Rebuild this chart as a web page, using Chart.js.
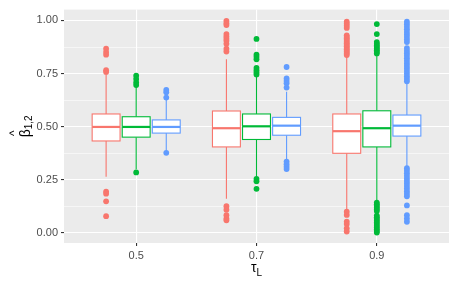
<!DOCTYPE html>
<html>
<head>
<meta charset="utf-8">
<script src="https://cdn.jsdelivr.net/npm/chart.js@4"></script>
<style>
  body { margin: 0; background: #fff; }
  #wrap { width: 456px; height: 285px; }
</style>
</head>
<body>
<div id="wrap"><canvas id="myChart"></canvas></div>
<script>
(function() {
  'use strict';

  // tau_L groups on the x axis
  const categories = ['0.5', '0.7', '0.9'];
  const yTicks = [0, 0.25, 0.5, 0.75, 1];
  const yMinorTicks = [0.125, 0.375, 0.625, 0.875];

  // box stats per group: [lower whisker, q1, median, q3, upper whisker]
  const redStats = [
    [0.265, 0.433, 0.499, 0.560, 0.750],
    [0.161, 0.405, 0.493, 0.574, 0.817],
    [0.110, 0.375, 0.479, 0.560, 0.828]
  ];
  const greenStats = [
    [0.300, 0.451, 0.499, 0.547, 0.690],
    [0.262, 0.440, 0.502, 0.560, 0.735],
    [0.150, 0.405, 0.493, 0.575, 0.836]
  ];
  const blueStats = [
    [0.385, 0.470, 0.499, 0.532, 0.634],
    [0.340, 0.460, 0.505, 0.544, 0.665],
    [0.310, 0.456, 0.505, 0.555, 0.705]
  ];

  // outliers per group
  const redOutliers = [
    [0.867, 0.851, 0.839, 0.766, 0.758, 0.195, 0.185, 0.149, 0.079],
    [0.998, 0.987, 0.978, 0.936, 0.925, 0.914, 0.904, 0.890, 0.867, 0.854,
     0.126, 0.110, 0.084, 0.068, 0.060],
    [0.994, 0.985, 0.975, 0.965, 0.930, 0.922, 0.915, 0.908, 0.900, 0.893,
     0.886, 0.879, 0.872, 0.865, 0.858, 0.851, 0.844, 0.837,
     0.100, 0.085, 0.054, 0.042, 0.022, 0.007]
  ];
  const greenOutliers = [
    [0.740, 0.724, 0.708, 0.696, 0.285],
    [0.913, 0.839, 0.828, 0.817, 0.777, 0.766, 0.755, 0.746, 0.254, 0.243, 0.208],
    [0.983, 0.936, 0.898, 0.890, 0.882, 0.875, 0.867, 0.860, 0.852, 0.845,
     0.143, 0.135, 0.127, 0.119, 0.111, 0.103, 0.082, 0.074, 0.066, 0.058,
     0.050, 0.042, 0.034, 0.026, 0.018, 0.010, 0.002]
  ];
  const blueOutliers = [
    [0.673, 0.662, 0.637, 0.377],
    [0.781, 0.727, 0.715, 0.704, 0.684, 0.336, 0.324, 0.312, 0.301],
    [0.994, 0.982, 0.970, 0.958, 0.946, 0.934, 0.922, 0.910, 0.898, 0.870,
     0.858, 0.846, 0.834, 0.822, 0.810, 0.798, 0.786, 0.774, 0.762, 0.750,
     0.738, 0.726, 0.714,
     0.305, 0.293, 0.281, 0.269, 0.257, 0.245, 0.233, 0.221, 0.209, 0.197,
     0.185, 0.173, 0.130, 0.084, 0.068, 0.053]
  ];

  const series = [
    { stats: redStats, outliers: redOutliers, color: '#F8766D', offset: -0.25 },
    { stats: greenStats, outliers: greenOutliers, color: '#00BA38', offset: 0 },
    { stats: blueStats, outliers: blueOutliers, color: '#619CFF', offset: 0.25 }
  ];
  const BOX_HALF = 0.116;

  const datasets = series.map(function (s) {
    const pts = [];
    s.outliers.forEach(function (list, i) {
      list.forEach(function (v) { pts.push({ x: i + 1 + s.offset, y: v }); });
    });
    return {
      type: 'scatter',
      data: pts,
      pointRadius: 2.9,
      pointBackgroundColor: s.color,
      pointBorderWidth: 0,
      pointHoverRadius: 2.9
    };
  });

  // grey panel behind the grid
  const panelBg = {
    id: 'panelBg',
    beforeDraw(chart) {
      const a = chart.chartArea, ctx = chart.ctx;
      ctx.save();
      ctx.fillStyle = '#EBEBEB';
      ctx.fillRect(a.left, a.top, a.right - a.left, a.bottom - a.top);
      ctx.restore();
    }
  };

  // boxes and whiskers, placed with the chart's scales
  const boxes = {
    id: 'boxes',
    afterDatasetsDraw(chart) {
      const ctx = chart.ctx, xs = chart.scales.x, ys = chart.scales.y;
      ctx.save();
      series.forEach(function (s) {
        s.stats.forEach(function (st, i) {
          const c = i + 1 + s.offset;
          const xc = xs.getPixelForValue(c);
          const x0 = xs.getPixelForValue(c - BOX_HALF);
          const x1 = xs.getPixelForValue(c + BOX_HALF);
          const yLo = ys.getPixelForValue(st[0]);
          const yQ1 = ys.getPixelForValue(st[1]);
          const yMed = ys.getPixelForValue(st[2]);
          const yQ3 = ys.getPixelForValue(st[3]);
          const yHi = ys.getPixelForValue(st[4]);
          ctx.strokeStyle = s.color;
          ctx.lineWidth = 1.1;
          ctx.beginPath();
          ctx.moveTo(xc, yQ3); ctx.lineTo(xc, yHi);
          ctx.moveTo(xc, yQ1); ctx.lineTo(xc, yLo);
          ctx.stroke();
          ctx.fillStyle = '#FFFFFF';
          ctx.fillRect(x0, yQ3, x1 - x0, yQ1 - yQ3);
          ctx.strokeRect(x0, yQ3, x1 - x0, yQ1 - yQ3);
          ctx.lineWidth = 2.2;
          ctx.beginPath();
          ctx.moveTo(x0, yMed); ctx.lineTo(x1, yMed);
          ctx.stroke();
        });
      });
      ctx.restore();
    }
  };

  // axis titles with hat and subscripts
  const titles = {
    id: 'titles',
    afterDraw(chart) {
      const ctx = chart.ctx, a = chart.chartArea;
      ctx.save();
      ctx.fillStyle = '#000000';
      ctx.textBaseline = 'alphabetic';
      // x title: tau_L
      const big = '14px "Liberation Sans", Arial, sans-serif';
      const small = '10px "Liberation Sans", Arial, sans-serif';
      ctx.font = big;
      const wT = ctx.measureText('τ').width;
      ctx.font = small;
      const wL = ctx.measureText('L').width;
      let xt = (a.left + a.right) / 2 - (wT + wL) / 2;
      ctx.font = big;
      ctx.fillText('τ', xt, 272);
      ctx.font = small;
      ctx.fillText('L', xt + wT, 276);
      // y title: beta hat 1,2
      ctx.translate(30, (a.top + a.bottom) / 2);
      ctx.rotate(-Math.PI / 2);
      ctx.font = big;
      const wB = ctx.measureText('β').width;
      ctx.font = small;
      const wS = ctx.measureText('1,2').width;
      const xb = -(wB + wS) / 2;
      ctx.font = big;
      ctx.fillText('β', xb, 0);
      ctx.font = '12px "Liberation Sans", Arial, sans-serif';
      ctx.textAlign = 'center';
      ctx.fillText('^', xb + wB / 2, -12);
      ctx.textAlign = 'left';
      ctx.font = small;
      ctx.fillText('1,2', xb + wB, 2);
      ctx.restore();
    }
  };

  const chart = document.getElementById('myChart');
  new Chart(chart, {
    data: { datasets: datasets },
    plugins: [panelBg, boxes, titles],
    options: {
      responsive: true,
      maintainAspectRatio: false,
      animation: false,
      layout: { padding: { top: 7, right: 7, left: 0, bottom: 0 } },
      plugins: { legend: { display: false }, tooltip: { enabled: false } },
      scales: {
        x: {
          type: 'linear',
          min: 0.4,
          max: 3.6,
          afterBuildTicks: function (scale) {
            scale.ticks = categories.map(function (c, i) { return { value: i + 1 }; });
          },
          afterFit: function (scale) { scale.height = 42; },
          border: { display: false },
          grid: { color: '#FFFFFF', lineWidth: 1.1, tickColor: '#333333', tickLength: 3 },
          ticks: {
            color: '#4D4D4D',
            padding: 3,
            maxRotation: 0,
            font: { family: '"Liberation Sans", Arial, sans-serif', size: 11 },
            callback: function (v) { return categories[Math.round(v) - 1]; }
          }
        },
        y: {
          type: 'linear',
          min: -0.047,
          max: 1.051,
          afterBuildTicks: function (scale) {
            scale.ticks = yTicks.concat(yMinorTicks).sort(function (p, q) { return p - q; })
              .map(function (v) { return { value: v }; });
          },
          afterFit: function (scale) { scale.width = 64; },
          border: { display: false },
          grid: {
            color: '#FFFFFF',
            lineWidth: function (ctx) { return yTicks.indexOf(ctx.tick.value) >= 0 ? 1.1 : 0.55; },
            tickColor: function (ctx) { return yTicks.indexOf(ctx.tick.value) >= 0 ? '#333333' : 'rgba(0,0,0,0)'; },
            tickLength: 3
          },
          ticks: {
            color: '#4D4D4D',
            padding: 3,
            font: { family: '"Liberation Sans", Arial, sans-serif', size: 11 },
            callback: function (v) { return yTicks.indexOf(v) >= 0 ? v.toFixed(2) : ''; }
          }
        }
      }
    }
  });
})();
</script>
</body>
</html>
